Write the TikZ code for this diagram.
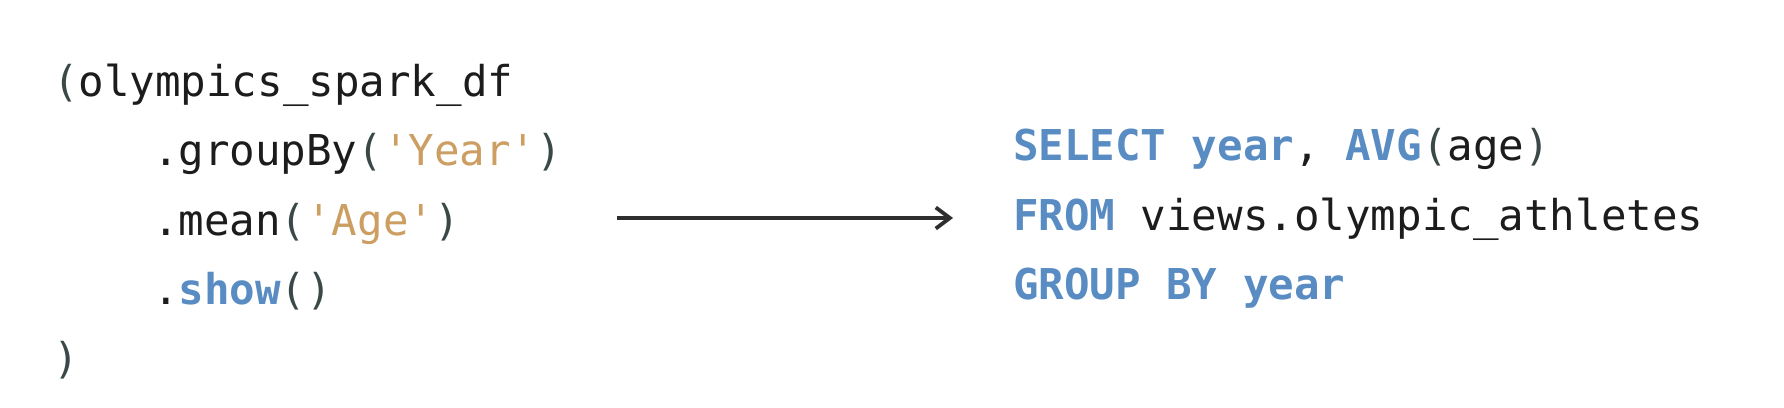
\documentclass[tikz,border=0pt]{standalone}
\usepackage{fontspec}
\setmonofont{DejaVu Sans Mono}
\usetikzlibrary{arrows.meta}
\definecolor{kwblue}{RGB}{88,140,194}
\definecolor{strtan}{RGB}{204,158,98}
\definecolor{pargray}{RGB}{58,72,72}
\definecolor{codeblack}{RGB}{28,28,28}
\newcommand{\kw}[1]{\textbf{\textcolor{kwblue}{#1}}}
\newcommand{\st}[1]{\textcolor{strtan}{#1}}
\newcommand{\pn}[1]{\textcolor{pargray}{#1}}
\begin{document}
\begin{tikzpicture}
  [x=0.025cm,y=-0.025cm,
   every node/.style={inner sep=0pt,outer sep=0pt,anchor=base west,
     font=\ttfamily\fontsize{30.2}{36}\selectfont,text=codeblack},
   convert/.style={-{Straight Barb[length=10pt,width=15pt]},line width=2.7pt,draw=black!82}]
\useasboundingbox[fill=white] (0,0) rectangle (1784,408);
% pyspark chain
\node (df) at (53,96) {\pn{(}olympics\_spark\_df};
  \node (group) at (153,165) {.groupBy\pn{(}\st{'Year'}\pn{)}};
  \node (mean) at (153,235) {.mean\pn{(}\st{'Age'}\pn{)}};
  \node (show) at (153,304) {.\kw{show}\pn{()}};
  \node (close) at (53,373) {\pn{)}};
% sql query
\node (select) at (1013,160) {\kw{SELECT year}, \kw{AVG}\pn{(}age\pn{)}};
  \node (from) at (1013,230) {\kw{FROM} views.olympic\_athletes};
  \node (groupby) at (1013,299) {\kw{GROUP BY year}};
\coordinate (src) at (617,218);
  \coordinate (dst) at (953,218);
 \draw[convert] (src) -- (dst);
\end{tikzpicture}
\end{document}
